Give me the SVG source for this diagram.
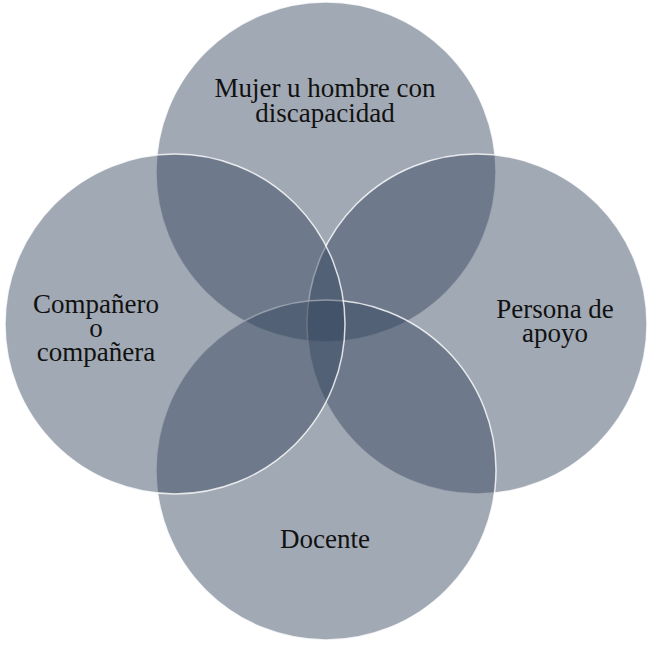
<svg xmlns="http://www.w3.org/2000/svg" width="653" height="647" viewBox="0 0 653 647">
<style>
.c{fill:#33445c;fill-opacity:0.46;stroke:#ffffff;stroke-width:1.5;stroke-opacity:0.8}
.t{font-family:"Liberation Serif","Times New Roman",serif;font-size:27px;fill:#111111;text-anchor:middle}
</style>
<rect width="653" height="647" fill="#ffffff"/>
<g id="top">
<circle class="c" cx="326" cy="172" r="170"/>
</g>
<g id="right">
<circle class="c" cx="477" cy="324" r="170"/>
</g>
<g id="bottom">
<circle class="c" cx="326" cy="470" r="170"/>
</g>
<g id="left">
<circle class="c" cx="175" cy="324" r="170"/>
</g>
<g id="labels">
<text class="t" x="325" y="97">Mujer u hombre con</text>
<text class="t" x="325" y="122">discapacidad</text>
<text class="t" x="96" y="313">Compañero</text>
<text class="t" x="96" y="337">o</text>
<text class="t" x="96" y="361">compañera</text>
<text class="t" x="555" y="318">Persona de</text>
<text class="t" x="555" y="342">apoyo</text>
<text class="t" x="325" y="548">Docente</text>
</g>
<g id="connectors"></g>
</svg>
